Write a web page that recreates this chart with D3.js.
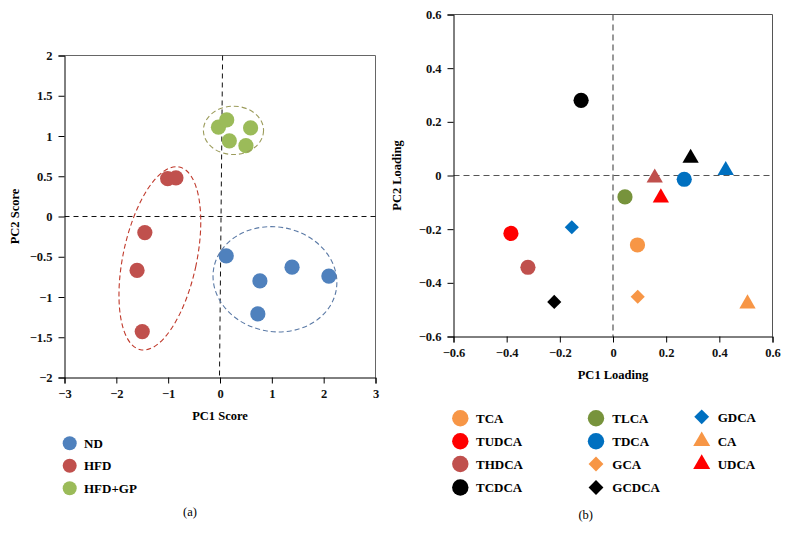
<!DOCTYPE html>
<html>
<head>
<meta charset="utf-8">
<script src="https://cdn.jsdelivr.net/npm/d3@7"></script>
<style>
  html, body { margin: 0; padding: 0; background: #fff; }
  svg { display: block; }
  text { font-family: "Liberation Serif", "Times New Roman", serif; }
</style>
</head>
<body>
<svg id="chart" width="789" height="539"></svg>
<script>
// ---------- Data: panel (a) PCA scores ----------
const groups = ["ND", "HFD", "HFD+GP"];
const ndPC1 = [0.12, 0.77, 1.39, 2.10, 0.73];
const ndPC2 = [-0.49, -0.80, -0.63, -0.74, -1.21];
const hfdPC1 = [-1.01, -0.85, -1.45, -1.60, -1.50];
const hfdPC2 = [0.47, 0.48, -0.20, -0.67, -1.43];
const gpPC1 = [-0.03, 0.13, 0.59, 0.18, 0.50];
const gpPC2 = [1.11, 1.20, 1.10, 0.94, 0.88];
// confidence ellipses (centre, semi-axes in data units, tilt in degrees)
const ellipseCX = [1.06, -1.16, 0.26];
const ellipseCY = [-0.78, -0.52, 1.07];
const ellipseRX = [1.20, 0.71, 0.58];
const ellipseRY = [0.65, 1.16, 0.30];
const ellipseTilt = [10, 12, 0];
const scoreXTicks = [-3, -2, -1, 0, 1, 2, 3];
const scoreYTicks = [-2, -1.5, -1, -0.5, 0, 0.5, 1, 1.5, 2];

// ---------- Data: panel (b) PCA loadings ----------
const compounds = ["TCDCA", "unlabeled-1", "unlabeled-2", "unlabeled-3", "TDCA", "TLCA", "UDCA",
                   "GDCA", "TUDCA", "TCA", "THDCA", "GCDCA", "GCA", "CA"];
const pc1Loading = [-0.12, 0.292, 0.424, 0.157, 0.268, 0.045, 0.180,
                    -0.155, -0.384, 0.092, -0.320, -0.221, 0.093, 0.506];
const pc2Loading = [0.280, 0.065, 0.019, -0.009, -0.014, -0.080, -0.083,
                    -0.193, -0.216, -0.259, -0.342, -0.471, -0.452, -0.478];
const loadingTicks = [-0.6, -0.4, -0.2, 0, 0.2, 0.4, 0.6];
const legendCompounds = [["TCA", "TUDCA", "THDCA", "TCDCA"], ["TLCA", "TDCA", "GCA", "GCDCA"], ["GDCA", "CA", "UDCA"]];

// ---------- Styles ----------
const groupColor = { "ND": "#4f81bd", "HFD": "#c0504d", "HFD+GP": "#9bbb59" };
const ellipseColor = ["#5b7aa6", "#c0392b", "#9c9c5c"];
const compoundStyle = {
  "TCA": ["circle", "#f79646"], "TUDCA": ["circle", "#ff0000"], "THDCA": ["circle", "#c0504d"],
  "TCDCA": ["circle", "#000000"], "TLCA": ["circle", "#77933c"], "TDCA": ["circle", "#0070c0"],
  "GCA": ["diamond", "#f79646"], "GCDCA": ["diamond", "#000000"], "GDCA": ["diamond", "#0070c0"],
  "CA": ["triangle", "#f79646"], "UDCA": ["triangle", "#ff0000"],
  "unlabeled-1": ["triangle", "#000000"], "unlabeled-2": ["triangle", "#0070c0"], "unlabeled-3": ["triangle", "#c0504d"]
};

const svg = d3.select("#chart");
const fmt = d3.format("");

function symbolPath(shape) {
  if (shape === "circle") return d3.symbol(d3.symbolCircle, Math.PI * 7.6 * 7.6)();
  if (shape === "diamond") return d3.symbol(d3.symbolSquare, 100)();
  return d3.symbol(d3.symbolTriangle, 115)();
}

function styleAxis(g) {
  g.select(".domain").attr("stroke", "#000").attr("stroke-width", 1);
  g.selectAll(".tick line").attr("stroke", "#000");
  g.selectAll(".tick text").attr("font-family", "Liberation Serif, serif")
    .attr("font-weight", "bold").attr("font-size", 12.5).attr("fill", "#111");
}

// ================= Panel (a) =================
const xA = d3.scaleLinear().domain([-3, 3]).range([64.5, 375.5]);
const yA = d3.scaleLinear().domain([-2, 2]).range([377.5, 55.5]);
const gA = svg.append("g");

// frame top/right
gA.append("line").attr("x1", xA(-3)).attr("x2", xA(3)).attr("y1", yA(2)).attr("y2", yA(2)).attr("stroke", "#666");
gA.append("line").attr("x1", xA(3)).attr("x2", xA(3)).attr("y1", yA(2)).attr("y2", yA(-2)).attr("stroke", "#666");

// dashed zero lines
gA.append("line").attr("x1", xA(-3)).attr("x2", xA(3) + 2).attr("y1", yA(0)).attr("y2", yA(0))
  .attr("stroke", "#111").attr("stroke-dasharray", "5,4");
gA.append("line").attr("x1", xA(0.05)).attr("x2", xA(-0.01)).attr("y1", yA(2)).attr("y2", yA(-2))
  .attr("stroke", "#111").attr("stroke-dasharray", "5,4");

const axA_x = gA.append("g").attr("transform", `translate(0,${yA(-2)})`)
  .call(d3.axisBottom(xA).tickValues(scoreXTicks).tickFormat(fmt).tickSizeOuter(0).tickSize(6).tickPadding(6));
styleAxis(axA_x);
const axA_y = gA.append("g").attr("transform", `translate(${xA(-3)},0)`)
  .call(d3.axisLeft(yA).tickValues(scoreYTicks).tickFormat(fmt).tickSizeOuter(0).tickSize(6).tickPadding(6));
styleAxis(axA_y);

// points
const scoreSets = [[ndPC1, ndPC2], [hfdPC1, hfdPC2], [gpPC1, gpPC2]];
scoreSets.forEach((s, gi) => {
  gA.append("g").selectAll("circle").data(d3.range(s[0].length)).join("circle")
    .attr("cx", i => xA(s[0][i])).attr("cy", i => yA(s[1][i])).attr("r", 7.6)
    .attr("fill", groupColor[groups[gi]]);
});

// ellipses
groups.forEach((g, i) => {
  const cx = xA(ellipseCX[i]), cy = yA(ellipseCY[i]);
  const rx = xA(ellipseRX[i]) - xA(0), ry = yA(0) - yA(ellipseRY[i]);
  gA.append("ellipse").attr("cx", 0).attr("cy", 0).attr("rx", rx).attr("ry", ry)
    .attr("transform", `translate(${cx},${cy}) rotate(${ellipseTilt[i]})`)
    .attr("fill", "none").attr("stroke", ellipseColor[i]).attr("stroke-width", 1.1)
    .attr("stroke-dasharray", "5,3");
});

// axis titles
gA.append("text").attr("x", xA(0)).attr("y", 420).attr("text-anchor", "middle")
  .attr("font-weight", "bold").attr("font-size", 12.5).text("PC1 Score");
gA.append("text").attr("transform", `translate(18.5,${yA(0)}) rotate(-90)`).attr("text-anchor", "middle")
  .attr("font-weight", "bold").attr("font-size", 12.5).text("PC2 Score");

// legend (a)
const legA = gA.append("g");
groups.forEach((g, i) => {
  const yy = 443.3 + i * 22.5;
  legA.append("circle").attr("cx", 69.7).attr("cy", yy).attr("r", 7).attr("fill", groupColor[g]);
  legA.append("text").attr("x", 84).attr("y", yy + 4.5).attr("font-weight", "bold").attr("font-size", 13).text(g);
});
gA.append("text").attr("x", 190).attr("y", 516).attr("text-anchor", "middle").attr("font-size", 12.5).text("(a)");

// ================= Panel (b) =================
const xB = d3.scaleLinear().domain([-0.6, 0.6]).range([453.5, 772.5]);
const yB = d3.scaleLinear().domain([-0.6, 0.6]).range([336.5, 14.5]);
const gB = svg.append("g");

gB.append("line").attr("x1", xB(-0.6)).attr("x2", xB(0.6)).attr("y1", yB(0.6)).attr("y2", yB(0.6)).attr("stroke", "#555");
gB.append("line").attr("x1", xB(0.6)).attr("x2", xB(0.6)).attr("y1", yB(0.6)).attr("y2", yB(-0.6)).attr("stroke", "#555");

gB.append("line").attr("x1", xB(-0.6)).attr("x2", xB(0.6)).attr("y1", yB(0)).attr("y2", yB(0))
  .attr("stroke", "#555").attr("stroke-dasharray", "6,4").attr("stroke-width", 1.2);
gB.append("line").attr("x1", xB(0)).attr("x2", xB(0)).attr("y1", yB(0.6)).attr("y2", yB(-0.6))
  .attr("stroke", "#555").attr("stroke-dasharray", "6,4").attr("stroke-width", 1.2);

const axB_x = gB.append("g").attr("transform", `translate(0,${yB(-0.6)})`)
  .call(d3.axisBottom(xB).tickValues(loadingTicks).tickFormat(fmt).tickSizeOuter(0).tickSize(6).tickPadding(6));
styleAxis(axB_x);
const axB_y = gB.append("g").attr("transform", `translate(${xB(-0.6)},0)`)
  .call(d3.axisLeft(yB).tickValues(loadingTicks).tickFormat(fmt).tickSizeOuter(0).tickSize(6).tickPadding(6));
styleAxis(axB_y);

gB.append("g").selectAll("path").data(d3.range(compounds.length)).join("path")
  .attr("d", i => symbolPath(compoundStyle[compounds[i]][0]))
  .attr("transform", i => `translate(${xB(pc1Loading[i])},${yB(pc2Loading[i])})` +
        (compoundStyle[compounds[i]][0] === "diamond" ? " rotate(45)" : ""))
  .attr("fill", i => compoundStyle[compounds[i]][1]);

gB.append("text").attr("x", xB(0)).attr("y", 379).attr("text-anchor", "middle")
  .attr("font-weight", "bold").attr("font-size", 12.5).text("PC1 Loading");
gB.append("text").attr("transform", `translate(401,${yB(0)}) rotate(-90)`).attr("text-anchor", "middle")
  .attr("font-weight", "bold").attr("font-size", 12.5).text("PC2 Loading");

// legend (b)
const colMarkX = [460.3, 596, 701.7];
const colTextX = [476, 612.3, 717.7];
const rowY = [418.3, 441.2, 464, 487.5];
legendCompounds.forEach((col, ci) => {
  col.forEach((name, ri) => {
    const st = compoundStyle[name];
    const yy = rowY[ri] - (ci === 2 && ri === 0 ? 1.5 : 0);
    let path;
    if (st[0] === "circle") path = d3.symbol(d3.symbolCircle, Math.PI * 8.2 * 8.2)();
    else if (st[0] === "diamond") path = d3.symbol(d3.symbolSquare, 110)();
    else path = d3.symbol(d3.symbolTriangle, 125)();
    gB.append("path").attr("d", path)
      .attr("transform", `translate(${colMarkX[ci]},${yy})` + (st[0] === "diamond" ? " rotate(45)" : ""))
      .attr("fill", st[1]);
    gB.append("text").attr("x", colTextX[ci]).attr("y", yy + 4.7).attr("font-weight", "bold")
      .attr("font-size", 13).text(name);
  });
});
gB.append("text").attr("x", 585.7).attr("y", 519).attr("text-anchor", "middle").attr("font-size", 12.5).text("(b)");
</script>
</body>
</html>
